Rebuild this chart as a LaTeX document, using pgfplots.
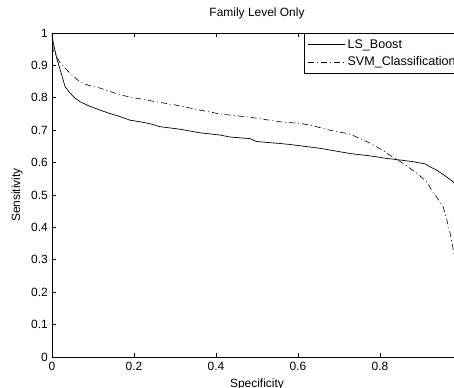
\documentclass[border=0pt]{standalone}
\usepackage{fontspec}
\setmainfont{Liberation Sans}
\usepackage{pgfplots}
\pgfplotsset{compat=1.18}
\begin{document}
\begin{tikzpicture}
\begin{axis}[
  name=ax, at={(0,0)}, anchor=south west,
  scale only axis, width=410bp, height=324bp,
  xmin=0, xmax=1, ymin=0, ymax=1,
  xtick={0,0.2,0.4,0.6,0.8,1},
  xticklabels={0,0.2,0.4,0.6,0.8,},
  ytick={0,0.1,0.2,0.3,0.4,0.5,0.6,0.7,0.8,0.9,1},
  tick align=inside, major tick length=4bp,
  /pgf/number format/assume math mode=true,
  /pgf/number format/fixed,
  tick label style={font=\fontsize{12}{14}\selectfont},
  xticklabel style={anchor=north, inner sep=0pt, yshift=-5bp},
  yticklabel style={anchor=east, inner sep=0pt, xshift=-4bp},
  axis line style={line width=0.8bp},
  every tick/.style={black, line width=0.6bp},
  title={Family Level Only},
  title style={at={(axis description cs:0.5,1.034)}, anchor=base, font=\fontsize{12}{14}\selectfont, inner sep=0pt},
  xlabel={Specificity},
  xlabel style={at={(axis description cs:0.5,-0.0926)}, anchor=base, font=\fontsize{12}{14}\selectfont, inner sep=0pt},
  ylabel={Sensitivity},
  ylabel style={at={(axis description cs:-0.085,0.5)}, anchor=center, font=\fontsize{12}{14}\selectfont, inner sep=0pt},
  legend style={at={(1,1)}, anchor=north east, draw=black, line width=0.6bp,
    font=\fontsize{12.6}{14}\selectfont, inner xsep=4bp, inner ysep=4bp, row sep=3bp,
    cells={anchor=west}},
  legend image code/.code={\draw[#1] (0bp,0bp) -- (37bp,0bp);},
]
\addplot[black, line width=0.7bp] coordinates {
(0,1) (0.003,0.97) (0.007,0.948) (0.012,0.92) (0.02,0.886) (0.032,0.834) (0.044,0.815)
(0.055,0.80) (0.068,0.788) (0.09,0.775) (0.117,0.762) (0.14,0.752) (0.166,0.742)
(0.19,0.731) (0.215,0.726) (0.239,0.72) (0.263,0.711) (0.312,0.703) (0.361,0.692)
(0.41,0.685) (0.434,0.679) (0.483,0.674) (0.499,0.665) (0.556,0.659) (0.58,0.656)
(0.605,0.652) (0.654,0.644) (0.727,0.628) (0.78,0.62) (0.816,0.613) (0.849,0.608)
(0.88,0.603) (0.91,0.596) (0.925,0.585) (0.938,0.577) (0.958,0.56) (0.978,0.541)
(0.99,0.52) (1,0.5)
};
\addlegendentry{LS\_Boost}
\addplot[black, line width=0.6bp, dash pattern=on 6bp off 3bp on 1bp off 3bp] coordinates {
(0,1) (0.003,0.947) (0.01,0.93) (0.02,0.907) (0.044,0.876) (0.068,0.849) (0.09,0.838)
(0.117,0.83) (0.166,0.809) (0.2,0.80) (0.239,0.791) (0.3,0.778) (0.361,0.762)
(0.41,0.75) (0.483,0.74) (0.556,0.726) (0.605,0.721) (0.629,0.716) (0.678,0.70)
(0.727,0.688) (0.776,0.66) (0.8,0.643) (0.824,0.623) (0.856,0.598) (0.89,0.567)
(0.914,0.541) (0.93,0.506) (0.938,0.494) (0.954,0.464) (0.963,0.423) (0.967,0.402)
(0.971,0.382) (0.978,0.336) (0.99,0.25) (1,0.2)
};
\addlegendentry{SVM\_Classification}
\end{axis}
\pgfresetboundingbox
\path[use as bounding box] (-52bp,-31bp) rectangle (402bp,357bp);
\end{tikzpicture}
\end{document}
